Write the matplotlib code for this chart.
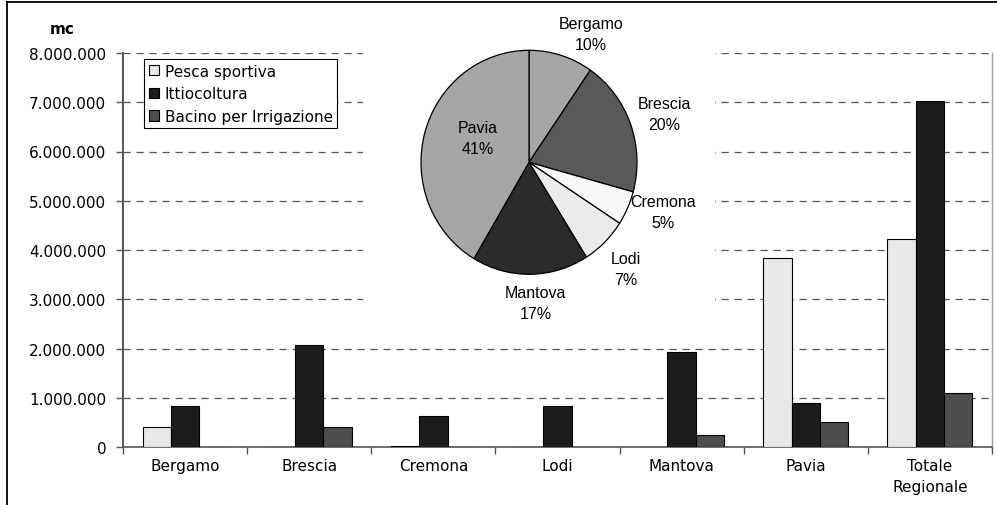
"""
Volumi invasati per provincia (mc) - barre + torta sovrapposta.
"""
import numpy as np
import matplotlib
matplotlib.use("Agg")
import matplotlib.pyplot as plt
from matplotlib.ticker import FuncFormatter, FixedLocator
from matplotlib.lines import Line2D

# ── Dati ───────────────────────────────────────────────────────
categorie = ["Bergamo", "Brescia", "Cremona", "Lodi", "Mantova", "Pavia",
             "Totale\nRegionale"]
pesca_sportiva = [400000, 0, 30000, 0, 0, 3830000, 4230000]
ittiocoltura = [830000, 2070000, 630000, 830000, 1930000, 890000, 7030000]
bacino_irrigazione = [0, 400000, 0, 0, 240000, 500000, 1100000]
serie_nomi = ["Pesca sportiva", "Ittiocoltura", "Bacino per Irrigazione"]

province_torta = ["Bergamo", "Brescia", "Cremona", "Lodi", "Mantova", "Pavia"]
quote_torta = [9.6, 19.6, 4.9, 6.9, 17.4, 41.4]

# ── Stile ──────────────────────────────────────────────────────
COL_BARRE = ["#e8e8e8", "#1c1c1c", "#4d4d4d"]
COL_TORTA = ["#a6a6a6", "#595959", "#f8f8f8", "#ebebeb", "#2b2b2b", "#a6a6a6"]
FONT = 11
plt.rcParams["font.family"] = "DejaVu Sans"

W, H = 997, 506
fig = plt.figure(figsize=(W / 100, H / 100), dpi=100)

# area del grafico a barre (in pixel: x 123-992, y 54-448)
ax = fig.add_axes([123 / W, 1 - 448 / H, (992 - 123) / W, (448 - 54) / H])

x = np.arange(len(categorie))
bw = 0.228
for i, (vals, nome) in enumerate(zip([pesca_sportiva, ittiocoltura,
                                      bacino_irrigazione], serie_nomi)):
    ax.bar(x + (i - 1) * bw, vals, width=bw, color=COL_BARRE[i],
           edgecolor="black", linewidth=0.8, label=nome, zorder=3)

ax.set_xlim(-0.5, len(categorie) - 0.5)
ax.set_ylim(0, 8000000)
ax.set_yticks(np.arange(0, 8000001, 1000000))
ax.yaxis.set_major_formatter(FuncFormatter(lambda v, p: f"{int(v):,}".replace(",", ".")))
ax.tick_params(axis="y", direction="out", length=5, width=1, color="#555555",
               labelsize=FONT, pad=7)

ax.set_xticks(x)
ax.set_xticklabels(categorie, fontsize=FONT, linespacing=1.45)
ax.xaxis.set_minor_locator(FixedLocator(np.arange(-0.5, len(categorie), 1.0)))
ax.tick_params(axis="x", which="major", length=0, pad=8)
ax.tick_params(axis="x", which="minor", direction="out", length=5, width=1,
               color="#555555")

# griglia tratteggiata (esclusa la linea dello zero)
for yv in range(1000000, 8000001, 1000000):
    ax.axhline(yv, color="#555555", linewidth=0.9, linestyle=(0, (5.8, 4.6)),
               zorder=1)

ax.spines["top"].set_visible(False)
ax.spines["left"].set_color("#555555")
ax.spines["left"].set_linewidth(1.4)
ax.spines["bottom"].set_color("#555555")
ax.spines["bottom"].set_linewidth(1.2)
ax.spines["right"].set_color("#a0a0a0")
ax.spines["right"].set_linewidth(1.0)

fig.text(62 / W, 1 - 30 / H, "mc", ha="center", va="center",
         fontsize=FONT, fontweight="bold")

leg = ax.legend(loc="upper left", bbox_to_anchor=((144 - 123) / 869, (448 - 60) / 394),
                borderaxespad=0, fontsize=FONT, frameon=True, fancybox=False,
                edgecolor="black", framealpha=1, handlelength=0.65,
                handleheight=0.65, handletextpad=0.4, labelspacing=0.5,
                borderpad=0.3)
leg.get_frame().set_linewidth(0.8)
leg.set_zorder(5)

# ── Torta sovrapposta ──────────────────────────────────────────
cx, cy, rx, ry = 529, 163.3, 108, 112
bx0, bx1, by0, by1 = 363, 715, 0, 330
ax2 = fig.add_axes([bx0 / W, 1 - by1 / H, (bx1 - bx0) / W, (by1 - by0) / H])
wedges, _ = ax2.pie(quote_torta, colors=COL_TORTA, startangle=90,
                    counterclock=False,
                    wedgeprops=dict(edgecolor="black", linewidth=0.9))
ax2.set_aspect("auto")
ax2.set_xlim(-(cx - bx0) / rx, (bx1 - cx) / rx)
ax2.set_ylim(-(by1 - cy) / ry, (cy - by0) / ry)
ax2.set_frame_on(True)
ax2.set_facecolor("white")
for s in ax2.spines.values():
    s.set_visible(False)

pos_etichette = [(0.571, 1.146), (1.25, 0.427), (1.24, -0.448),
                 (0.90, -0.953), (0.062, -1.256), (-0.472, 0.217)]
tot = sum(quote_torta)
for nome, q, (px, py) in zip(province_torta, quote_torta, pos_etichette):
    ax2.text(px, py, f"{nome}\n{q / tot * 100:.0f}%", ha="center", va="center",
             fontsize=11.5, family="Liberation Sans", linespacing=1.5)

# cornice esterna (lati sinistro e superiore)
fig.add_artist(Line2D([7 / W, 7 / W], [0, 1 - 3 / H], color="black", linewidth=1.3))
fig.add_artist(Line2D([7 / W, 1], [1 - 3 / H, 1 - 3 / H], color="black", linewidth=1.3))

fig.savefig("out.png", dpi=100)
